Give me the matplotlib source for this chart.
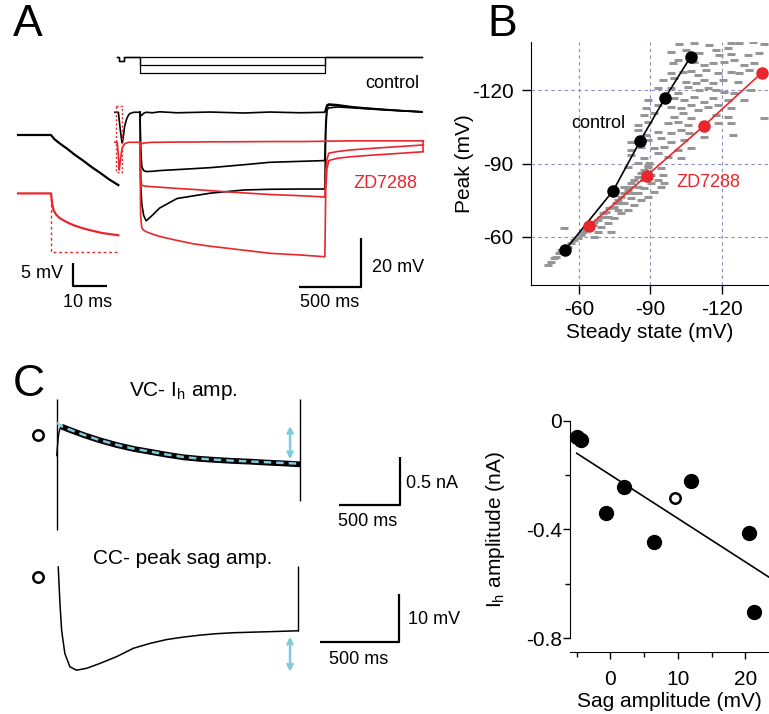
"""
Sag / Ih figure: traces (A, C) and peak vs steady state scatter (B, C right)
"""

import matplotlib.pyplot as plt

W, H = 769, 714

RED = "#e8262c"
GRAY = "#969696"
CYAN = "#7dcbdb"
GRID = "#8c8cc0"

# ---------------- panel A, main traces (ms, mV; control baseline = 0) ----------------
STEP_ON, STEP_OFF = 0, 1500
CMD_START, CMD_END = -186, 2285
CMD_NOTCH = (-170, -130)
CMD_BASE = 22.9
CMD_NOTCH_DEPTH = -1.8
CMD_LEVELS = [0, -3.4, -6.6]

CTRL_PRE_T = [-203, -184, -175, -160, -150, -143, -135, -125, -110, -95, -81, -50, 0]
CTRL_PRE_V = [0, 0, 0, -7, -11, -12.6, -10, -6, -3, -1.3, -0.5, 0, 0]
RED_PRE_T = [-203, -184, -176, -168, -160, -150, -141, -120, -90, 0]
RED_PRE_V = [0, 0, -5, -11.4, -8, -4, -1.8, -0.5, 0, 0]

CTRL_T = [0, 6, 15, 30, 50, 100, 160, 300, 570, 840, 1050, 1300, 1490,
          1498, 1505, 1515, 1530, 1600, 1730, 1850, 2000, 2150, 2285]
CTRL_V1 = [0, -1.5, -1.2, -0.4, 0, -0.2, 0.2, -0.2, 0.1, -0.3, 0.1, -0.2, 0,
           0, 1.5, 3.0, 3.4, 3.1, 2.2, 1.7, 1.1, 0.6, 0.2]
CTRL_V2 = [0, -15, -22.5, -24, -24.4, -24.3, -24.0, -23.6, -22.8, -21.6, -20.6, -20.2, -19.9,
           -19.5, -5, 2.2, 3.0, 2.8, 2.0, 1.5, 1.0, 0.5, 0.2]
CTRL_V3 = [0, -30, -38, -42.5, -44.7, -42.4, -39.4, -35.5, -33.3, -32.0, -31.7, -31.6, -31.6,
           -31.0, -8, 1.0, 1.8, 2.2, 1.8, 1.4, 0.9, 0.5, 0.1]

RED_OFFSET = -12.35
RED_T = [0, 5, 14, 27, 50, 100, 162, 300, 433, 570, 703, 1053, 1300, 1490,
         1498, 1505, 1515, 1530, 1600, 1700, 1850, 2000, 2150, 2296]
RED_V1 = [0, -0.5, -0.6, -0.4, -0.2, 0, 0, 0.1, 0.1, 0.2, 0.2, 0.3, 0.3, 0.4,
          0.4, 0.5, 0.5, 0.5, 0.5, 0.6, 0.6, 0.6, 0.6, 0.6]
RED_V2 = [0, -14, -17.6, -17.9, -18.1, -18.3, -18.5, -19.0, -19.4, -19.9, -20.4, -21.5, -22.0, -22.5,
          -22.6, -12, -7, -4.5, -3.8, -3.2, -2.6, -2.1, -1.6, -1.1]
RED_V3 = [0, -30, -35, -36.1, -36.8, -37.8, -38.8, -40.4, -41.8, -42.8, -43.6, -45.7, -46.4, -47.1,
          -47.2, -20, -11, -7.5, -6.6, -6.0, -5.4, -4.9, -4.4, -3.9]
ZOOM_BOX_T = (-194, -148)
ZOOM_BOX_V = (2.6, -24.4)

# ---------------- panel A, inset (ms, mV) ----------------
IN_CTRL_T = [-9.7, -5, 0, 1, 2.5, 4.6, 7, 9.5, 12, 14.4, 17, 19.8]
IN_CTRL_V = [0, 0, 0, -0.9, -1.8, -2.9, -4.3, -5.6, -7.0, -8.2, -9.6, -10.9]
IN_ZD_OFFSET = -12.7
IN_ZD_T = [-9.7, -5, 0, 0.3, 0.7, 1.5, 2.6, 4.5, 6.6, 9, 11.5, 15, 19.8]
IN_ZD_V = [0, 0, 0, -2, -3.6, -4.6, -5.4, -6.2, -6.9, -7.5, -8.0, -8.6, -9.1]
IN_ZD_SS = -12.7

# ---------------- panel B (steady state, peak; mV) ----------------
CTRL_SS = [-54.1, -74.4, -85.7, -96.2, -107.0]
CTRL_PK = [-54.5, -78.9, -99.2, -116.9, -133.8]
ZD_SS = [-64.2, -88.5, -112.6, -136.9]
ZD_PK = [-64.4, -85.0, -105.5, -127.2]

# individual sweeps from all cells (grey dashes)
GRAY_SS = [
    -102.2, -108.5, -114.8, -124.0, -127.5, -133.1, -138.0, -122.5,
    -98.7, -105.0, -110.6, -117.6, -119.0, -124.0, -131.0, -135.9,
    -99.4, -101.5, -108.5, -112.7, -116.2, -121.1, -125.4, -129.6, -133.8,
    -98.7, -103.6, -107.1, -109.9, -113.4, -118.3, -124.0, -127.5, -131.7,
    -95.2, -100.1, -105.0, -109.2, -112.7, -116.2, -120.4, -126.8,
    -93.1, -98.7, -101.5, -105.7, -110.6, -114.1, -117.6, -121.1, -125.4, -132.4,
    -88.9, -95.9, -100.1, -104.3, -108.5, -112.7, -116.2, -122.5, -129.6,
    -88.2, -93.1, -98.7, -102.9, -107.1, -109.9, -114.1, -118.3, -124.0,
    -87.5, -91.7, -100.1, -103.6, -107.1, -117.6, -122.5, -138.0,
    -84.7, -88.9, -97.3, -101.5, -105.7, -118.3, -124.0,
    -84.7, -88.2, -93.1, -98.7, -102.9, -106.4, -124.7,
    -81.9, -88.9, -94.5, -98.7, -104.3, -112.7,
    -81.9, -86.1, -91.7, -95.9, -101.5, -107.1,
    -81.9, -87.5, -93.1, -97.3, -102.9,
    -80.5, -84.7, -88.9, -94.5,
    -46.8, -48.2, -49.6, -50.3, -51.7, -52.4, -53.1, -55.2, -56.6, -58.0, -59.4, -60.8,
    -61.5, -62.9, -64.3, -65.7, -66.4, -67.9, -69.3, -70.0, -71.4, -72.8, -74.2, -75.6,
    -76.3, -77.7, -79.1, -80.5, -81.2, -81.9, -83.3, -84.7, -86.1, -87.5, -88.9, -89.6,
    -53.8, -73.5, -66.4, -67.9, -69.3, -72.1, -74.9, -77.7, -80.5, -83.3, -86.1, -88.9,
    -91.7, -94.5, -95.9, -79.1, -81.9, -84.7, -87.5, -90.3, -93.1, -95.2, -76.3, -72.1,
    -74.9, -77.7, -81.9, -84.7, -87.5, -90.3, -79.1,
]
GRAY_PK = [
    -139.0, -139.2, -138.6, -139.5, -139.2, -139.9, -139.0, -137.2,
    -135.8, -136.5, -135.1, -136.5, -134.5, -134.9, -134.5, -135.1,
    -131.0, -132.4, -131.7, -130.4, -131.0, -131.7, -132.4, -130.4, -131.3,
    -126.9, -127.6, -128.0, -126.3, -128.3, -126.9, -127.6, -126.9, -128.3,
    -124.2, -124.9, -123.5, -122.8, -124.2, -122.8, -124.2, -123.5,
    -120.8, -120.8, -118.7, -121.5, -120.1, -120.8, -120.1, -119.4, -118.7, -120.1,
    -116.0, -117.4, -116.7, -116.0, -117.4, -115.3, -116.7, -116.0, -116.0,
    -112.6, -114.0, -113.3, -112.6, -114.0, -111.9, -113.3, -114.0, -112.6,
    -109.9, -110.5, -109.2, -110.5, -108.5, -109.9, -109.2, -108.5,
    -105.8, -107.1, -106.4, -107.1, -105.8, -106.4, -106.4,
    -103.7, -101.7, -103.0, -102.4, -103.7, -102.4, -101.7,
    -98.9, -99.6, -100.3, -98.9, -99.6, -101.0,
    -95.5, -96.9, -96.2, -96.9, -95.5, -96.2,
    -93.5, -92.1, -94.2, -92.8, -92.1,
    -88.7, -90.1, -89.4, -88.0,
    -48.4, -49.8, -51.1, -51.8, -53.2, -54.5, -53.9, -55.9, -57.3, -58.6, -59.3, -60.7,
    -62.1, -62.7, -63.4, -64.8, -66.2, -66.8, -68.2, -69.6, -70.3, -71.6, -72.3, -73.7,
    -75.0, -76.4, -77.8, -79.1, -80.5, -81.9, -83.2, -84.6, -86.0, -87.3, -88.7, -90.1,
    -63.4, -62.1, -60.0, -62.1, -64.1, -65.5, -67.5, -69.6, -70.9, -73.0, -75.0, -76.4,
    -78.5, -80.5, -81.9, -73.7, -75.7, -77.8, -79.8, -81.9, -83.2, -85.3, -70.9, -68.2,
    -72.3, -73.7, -77.8, -80.5, -83.2, -85.3, -80.5,
]

# ---------------- panel C, left traces ----------------
VC_T = [0, 5, 12, 20, 30, 40, 100, 219, 350, 492, 630, 765, 900, 1038, 1170, 1311,
        1450, 1585, 1720, 1858, 1995]
VC_I = [-0.30, -0.22, -0.12, -0.05, -0.01, 0.0, -0.03, -0.086, -0.14, -0.19, -0.23, -0.26,
        -0.29, -0.317, -0.333, -0.345, -0.355, -0.362, -0.372, -0.38, -0.39]
VC_FIT_T = [0, 40, 100, 219, 350, 492, 630, 765, 900, 1038, 1170, 1311, 1450, 1585, 1720,
            1858, 1995]
VC_FIT_I = [0.04, 0.005, -0.028, -0.084, -0.138, -0.188, -0.228, -0.258, -0.288, -0.314,
            -0.331, -0.343, -0.353, -0.36, -0.368, -0.376, -0.383]
VC_EDGE_TOP = 0.288
VC_EDGE_BOTTOM = [-1.07, -0.77]
VC_ARROW = (1913, 0.007, -0.337)
VC_MARK = (-153, -0.086)

CC_T = [0, 5, 10.8, 21.5, 42, 74, 116, 180, 264, 370, 475, 580, 686, 790, 896, 1000,
        1108, 1210, 1319, 1420, 1519]
CC_V = [0, -3.5, -7.5, -13, -17.8, -20.5, -21.2, -20.8, -19.8, -18.4, -16.7, -15.7, -14.9,
        -14.4, -14.0, -13.7, -13.5, -13.4, -13.3, -13.2, -13.1]
CC_END_TOP = 0.2
CC_ARROW = (1467, -14.3, -21.5)
CC_MARK = (-128, -2.0)

# ---------------- panel C, right scatter ----------------
SAG_FILLED = [-5.0, -4.4, -0.7, 2.0, 6.4, 12.0, 20.6, 21.3]
IH_FILLED = [-0.059, -0.071, -0.341, -0.245, -0.447, -0.222, -0.412, -0.703]
SAG_OPEN = [9.5]
IH_OPEN = [-0.283]
FIT_SLOPE = -0.016
FIT_INTERCEPT = -0.2
FIT_RANGE = [-5.0, 23.5]


plt.rcParams.update({
    "font.family": ["Liberation Sans", "DejaVu Sans"],
    "axes.unicode_minus": False,
    "mathtext.default": "regular",
})

fig = plt.figure(figsize=(W / 100, H / 100), dpi=100)
fig.patch.set_facecolor("white")


def px_axes(x0, y0, x1, y1):
    return fig.add_axes([x0 / W, 1 - y1 / H, (x1 - x0) / W, (y1 - y0) / H])


def px_text(x, y, s, **kw):
    fig.text(x / W, 1 - y / H, s, **kw)


def trace_axes(x0, y0, x1, y1, xlim, ylim):
    ax = px_axes(x0, y0, x1, y1)
    ax.set_xlim(*xlim)
    ax.set_ylim(*ylim)
    ax.axis("off")
    return ax


def scale_bar(ax, x_corner, y_corner, dx, dy, vertical_left=False):
    if vertical_left:
        xs = [x_corner, x_corner, x_corner + dx]
        ys = [y_corner + dy, y_corner, y_corner]
    else:
        xs = [x_corner - dx, x_corner, x_corner]
        ys = [y_corner, y_corner, y_corner + dy]
    ax.plot(xs, ys, color="black", lw=1.6, solid_capstyle="butt", clip_on=False)


def double_arrow(ax, x, y0, y1):
    ax.annotate("", xy=(x, y0), xytext=(x, y1),
                arrowprops=dict(arrowstyle="<->", color=CYAN, lw=1.8, mutation_scale=9,
                                shrinkA=0, shrinkB=0))


# ================= A main =================
ax_a = trace_axes(100, 45, 440, 310, (-324, 2431), (-81.4, 27.7))

# command protocol
for lvl in CMD_LEVELS:
    t = [CMD_START, CMD_NOTCH[0], CMD_NOTCH[0], CMD_NOTCH[1], CMD_NOTCH[1],
         STEP_ON, STEP_ON, STEP_OFF, STEP_OFF, CMD_END]
    v = [CMD_BASE, CMD_BASE, CMD_BASE + CMD_NOTCH_DEPTH, CMD_BASE + CMD_NOTCH_DEPTH, CMD_BASE,
         CMD_BASE, CMD_BASE + lvl, CMD_BASE + lvl, CMD_BASE, CMD_BASE]
    ax_a.plot(t, v, color="black", lw=0.9)

ax_a.plot(CTRL_PRE_T, CTRL_PRE_V, color="black", lw=1.2)
ax_a.plot(RED_PRE_T, [v + RED_OFFSET for v in RED_PRE_V], color=RED, lw=1.2)
for vs in (CTRL_V1, CTRL_V2, CTRL_V3):
    ax_a.plot(CTRL_T, vs, color="black", lw=1.2)
for vs in (RED_V1, RED_V2, RED_V3):
    ax_a.plot(RED_T, [v + RED_OFFSET for v in vs], color=RED, lw=1.2)
ax_a.vlines(RED_T[-1], RED_V3[-1] + RED_OFFSET, RED_V1[-1] + RED_OFFSET, color=RED, lw=1.2)

bt0, bt1 = ZOOM_BOX_T
bv0, bv1 = ZOOM_BOX_V
ax_a.plot([bt0, bt1, bt1, bt0, bt0], [bv0, bv0, bv1, bv1, bv0],
          color=RED, lw=1.0, linestyle=(0, (1.5, 1.5)))

scale_bar(ax_a, 1788, -71.8, 500, 20)
px_text(419, 84, "control", fontsize=13, ha="right", va="center")
px_text(417, 183, "ZD7288", fontsize=13, ha="right", va="center", color=RED)
px_text(372, 267, "20 mV", fontsize=13, ha="left", va="center")
px_text(330, 302, "500 ms", fontsize=13, ha="center", va="center")

# ================= A inset =================
ax_in = trace_axes(10, 120, 125, 300, (-12.06, 21.76), (-35.87, 3.26))
ax_in.plot(IN_CTRL_T, IN_CTRL_V, color="black", lw=1.6)
ax_in.plot(IN_ZD_T, [v + IN_ZD_OFFSET for v in IN_ZD_V], color=RED, lw=1.6)
ax_in.plot([0, 0, IN_ZD_T[-1]],
           [IN_ZD_OFFSET, IN_ZD_OFFSET + IN_ZD_SS, IN_ZD_OFFSET + IN_ZD_SS],
           color=RED, lw=1.0, linestyle=(0, (2, 2)))
scale_bar(ax_in, 6.5, -32.8, 10, 5, vertical_left=True)
px_text(63, 274, "5 mV", fontsize=13, ha="right", va="center")
px_text(88, 302, "10 ms", fontsize=13, ha="center", va="center")

# ================= B =================
ax_b = px_axes(531, 42, 768, 285)
ax_b.set_xlim(-39.8, -139.5)
ax_b.set_ylim(-40.2, -139.8)
ax_b.plot(GRAY_SS, GRAY_PK, linestyle="none", marker="_", markersize=5.5,
          markeredgewidth=2.2, color=GRAY, zorder=1)
ax_b.plot(CTRL_SS, CTRL_PK, color="black", lw=1.2, marker="o", markersize=8, zorder=4)
ax_b.plot(ZD_SS, ZD_PK, color=RED, lw=1.2, marker="o", markersize=8, zorder=4)
ax_b.set_xticks([-60, -90, -120])
ax_b.set_yticks([-60, -90, -120])
ax_b.grid(True, color=GRID, linestyle=(0, (3, 3)), linewidth=0.8)
ax_b.set_axisbelow(True)
for side in ("top", "right"):
    ax_b.spines[side].set_visible(False)
ax_b.tick_params(direction="out", length=6.5, width=1, labelsize=15)
ax_b.tick_params(axis="y", pad=6)
ax_b.tick_params(axis="x", pad=4.5)
ax_b.set_xlabel("Steady state (mV)", fontsize=15)
ax_b.set_ylabel("Peak (mV)", fontsize=15)
ax_b.yaxis.set_label_coords(-0.24, 0.5)
ax_b.xaxis.set_label_coords(0.5, -0.156)
ax_b.text(-68.1, -106.4, "control", fontsize=13, ha="center", va="center", zorder=5)
ax_b.text(-114.3, -82.4, "ZD7288", fontsize=13, ha="center", va="center", color=RED, zorder=5)

# ================= C left =================
ax_vc = trace_axes(20, 380, 470, 545, (-301, 3388), (-1.225, 0.483))
ax_vc.vlines(VC_T[0], VC_EDGE_BOTTOM[0], VC_EDGE_TOP, color="black", lw=1.0)
ax_vc.vlines(VC_T[-1], VC_EDGE_BOTTOM[1], VC_EDGE_TOP, color="black", lw=1.0)
ax_vc.plot(VC_T[:6], VC_I[:6], color="black", lw=1.0)
ax_vc.plot(VC_T[5:], VC_I[5:], color="black", lw=4.2, solid_capstyle="butt")
ax_vc.plot(VC_FIT_T, VC_FIT_I, color=CYAN, lw=1.8, linestyle=(0, (3, 2)))
double_arrow(ax_vc, *VC_ARROW)
ax_vc.plot([VC_MARK[0]], [VC_MARK[1]], marker="o", markersize=7.5, markerfacecolor="white",
           markeredgecolor="black", markeredgewidth=1.8, clip_on=False)
scale_bar(ax_vc, 2814, -0.81, 500, 0.5)
px_text(183, 391, "VC- I$_h$ amp.", fontsize=15, ha="center", va="center")
px_text(406, 483, "0.5 nA", fontsize=13, ha="left", va="center")
px_text(368, 522, "500 ms", fontsize=13, ha="center", va="center")

ax_cc = trace_axes(20, 550, 470, 690, (-242, 2606), (-25.26, 3.49))
ax_cc.plot(CC_T, CC_V, color="black", lw=1.1)
ax_cc.vlines(CC_T[-1], CC_V[-1], CC_END_TOP, color="black", lw=1.0)
double_arrow(ax_cc, *CC_ARROW)
ax_cc.plot([CC_MARK[0]], [CC_MARK[1]], marker="o", markersize=7.5, markerfacecolor="white",
           markeredgecolor="black", markeredgewidth=1.8, clip_on=False)
scale_bar(ax_cc, 2156, -15.5, 500, 10)
px_text(183, 559, "CC- peak sag amp.", fontsize=15, ha="center", va="center")
px_text(408, 620, "10 mV", fontsize=13, ha="left", va="center")
px_text(359, 659, "500 ms", fontsize=13, ha="center", va="center")

# ================= C right =================
ax_c = px_axes(570, 420.7, 769, 638)
ax_c.set_xlim(-6.0, 23.5)
ax_c.set_ylim(-0.8, 0)
ax_c.plot(SAG_FILLED, IH_FILLED, linestyle="none", marker="o", markersize=10,
          color="black", clip_on=False, zorder=4)
ax_c.plot(SAG_OPEN, IH_OPEN, linestyle="none", marker="o", markersize=7.5,
          markerfacecolor="white", markeredgecolor="black", markeredgewidth=1.8,
          clip_on=False, zorder=4)
ax_c.plot(FIT_RANGE, [FIT_INTERCEPT + FIT_SLOPE * x for x in FIT_RANGE],
          color="black", lw=1.2, clip_on=False)
for side in ("top", "right"):
    ax_c.spines[side].set_visible(False)
ax_c.spines["bottom"].set_position(("outward", 10))
ax_c.set_yticks([0, -0.4, -0.8])
ax_c.set_yticklabels(["0", "-0.4", "-0.8"])
ax_c.set_yticks([-0.2, -0.6], minor=True)
ax_c.set_xticks([0, 10, 20])
ax_c.set_xticks([-5, 5, 15], minor=True)
ax_c.tick_params(which="major", direction="out", length=5, width=1, labelsize=15)
ax_c.tick_params(which="minor", direction="out", length=3.5, width=1)
ax_c.tick_params(axis="y", pad=1)
ax_c.tick_params(axis="x", pad=8)
ax_c.set_xlabel("Sag amplitude (mV)", fontsize=15)
ax_c.set_ylabel("I$_h$ amplitude (nA)", fontsize=15)
ax_c.yaxis.set_label_coords(-0.317, 0.5)
ax_c.xaxis.set_label_coords(0.5, -0.247)

# panel letters
px_text(28, 25, "A", fontsize=32, ha="center", va="center")
px_text(502, 24, "B", fontsize=32, ha="center", va="center")
px_text(29, 385, "C", fontsize=32, ha="center", va="center")

fig.savefig("out.png", dpi=100, facecolor="white")
